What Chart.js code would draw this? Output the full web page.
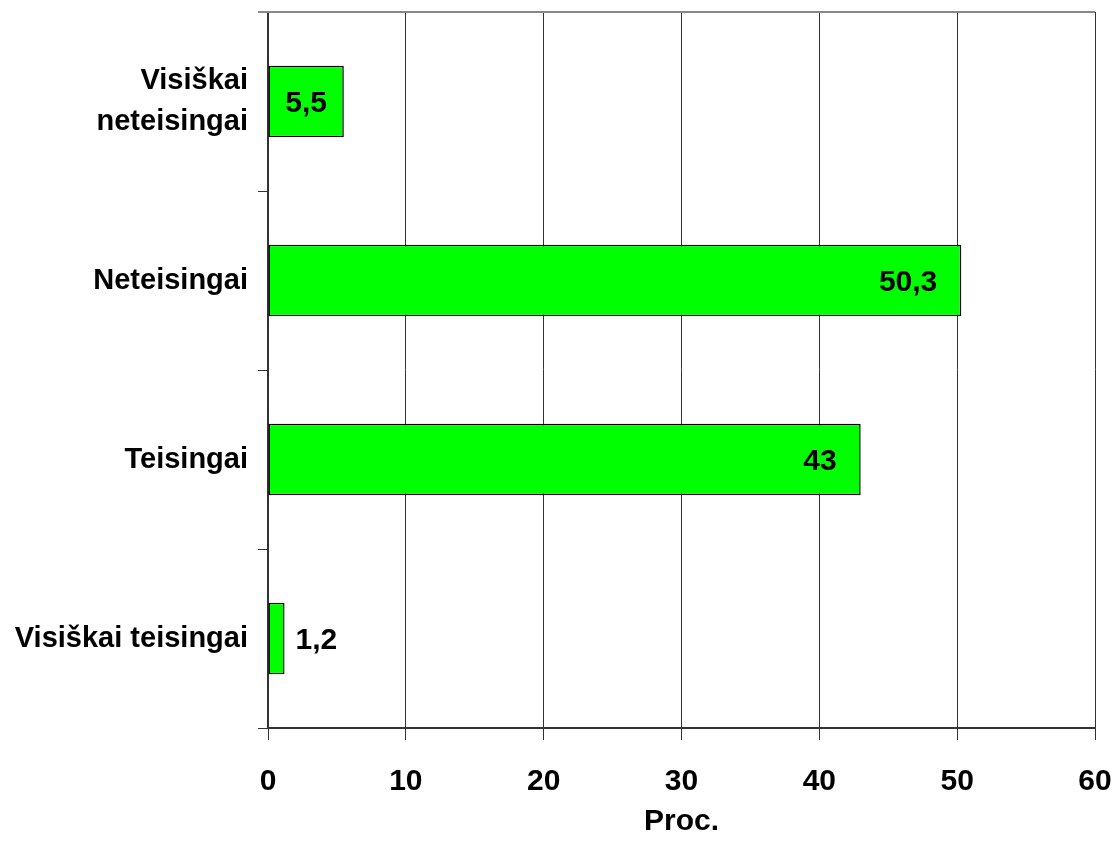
<!DOCTYPE html>
<html>
<head>
<meta charset="utf-8">
<script src="https://cdn.jsdelivr.net/npm/chart.js@4.4.1/dist/chart.umd.min.js"></script>
<style>
    html, body { margin: 0; padding: 0; background: #fff; }
    #wrap { width: 1114px; height: 863px; }
</style>
</head>
<body>
<div id="wrap"><canvas id="chart" width="1114" height="863"></canvas></div>
<script>
// Chart data
const categories = [['Visiškai', 'neteisingai'], 'Neteisingai', 'Teisingai', 'Visiškai teisingai'];
const values = [5.5, 50.3, 43, 1.2];
const xTicks = [0, 10, 20, 30, 40, 50, 60];

const FONT = '"Liberation Sans Narrow", "Arial Narrow", "Liberation Sans", Arial, sans-serif';

// Draws the value labels next to / inside the bars
const barLabels = {
    id: 'barLabels',
    afterDatasetsDraw(chart) {
        const ctx = chart.ctx;
        const meta = chart.getDatasetMeta(0);
        ctx.save();
        ctx.font = 'bold 30px ' + FONT;
        ctx.fillStyle = '#000';
        ctx.textBaseline = 'middle';
        meta.data.forEach((bar, i) => {
            const text = String(values[i]).replace('.', ',');
            const w = ctx.measureText(text).width;
            const barW = bar.x - bar.base;
            if (barW > w + 60) {
                ctx.textAlign = 'right';
                ctx.fillText(text, bar.x - 24, bar.y + 2);
            } else if (barW > w + 10) {
                ctx.textAlign = 'center';
                ctx.fillText(text, (bar.x + bar.base) / 2, bar.y + 2);
            } else {
                ctx.textAlign = 'left';
                ctx.fillText(text, bar.x + 11, bar.y + 2);
            }
        });
        ctx.restore();
    }
};

// Top border of the plot area
const topBorder = {
    id: 'topBorder',
    afterDraw(chart) {
        const { ctx, chartArea } = chart;
        ctx.save();
        ctx.strokeStyle = '#888';
        ctx.lineWidth = 2;
        ctx.beginPath();
        ctx.moveTo(chartArea.left - 10, chartArea.top);
        ctx.lineTo(chartArea.right, chartArea.top);
        ctx.stroke();
        ctx.restore();
    }
};

new Chart(document.getElementById('chart'), {
    type: 'bar',
    data: {
        labels: categories,
        datasets: [{
            data: values,
            backgroundColor: '#00ff00',
            borderColor: '#000',
            borderWidth: 1.5,
            borderSkipped: false,
            categoryPercentage: 0.8,
            barPercentage: 0.5
        }]
    },
    options: {
        indexAxis: 'y',
        responsive: false,
        animation: false,
        layout: { padding: { top: 12, right: 19, bottom: 23, left: 0 } },
        plugins: {
            legend: { display: false },
            tooltip: { enabled: false }
        },
        scales: {
            x: {
                min: 0,
                max: 60,
                afterBuildTicks: scale => { scale.ticks = xTicks.map(v => ({ value: v })); },
                afterFit: scale => {
                    scale.height = 112;
                    scale.paddingLeft = 0;
                    scale.paddingRight = 0;
                },
                grid: {
                    color: '#333',
                    lineWidth: 1,
                    tickLength: 12,
                    tickColor: '#333'
                },
                border: { color: '#333', width: 2 },
                ticks: {
                    color: '#000',
                    padding: 24,
                    font: { family: FONT, size: 30, weight: 'bold' }
                },
                title: {
                    display: true,
                    text: 'Proc.',
                    color: '#000',
                    padding: { top: 4, bottom: 0 },
                    font: { family: FONT, size: 30, weight: 'bold' }
                }
            },
            y: {
                afterFit: scale => {
                    scale.width = 268;
                    scale.paddingTop = 0;
                    scale.paddingBottom = 0;
                },
                grid: {
                    offset: true,
                    drawOnChartArea: false,
                    tickLength: 10,
                    color: '#333'
                },
                border: { color: '#333', width: 2 },
                ticks: {
                    color: '#000',
                    padding: 10,
                    font: { family: FONT, size: 29, weight: 'bold', lineHeight: 1.4 }
                }
            }
        }
    },
    plugins: [barLabels, topBorder]
});
</script>
</body>
</html>
